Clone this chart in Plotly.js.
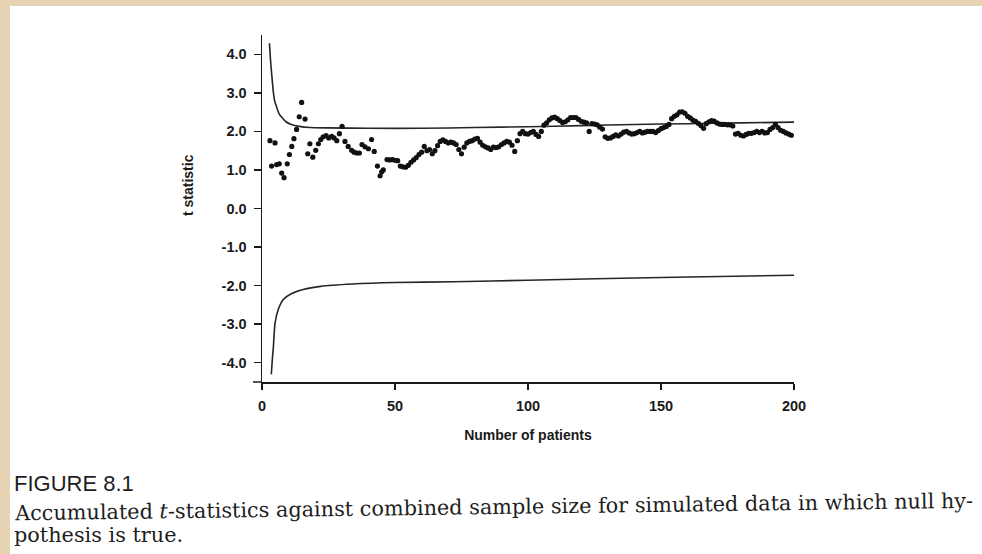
<!DOCTYPE html>
<html>
<head>
<meta charset="utf-8">
<script src="https://cdn.plot.ly/plotly-3.0.1.min.js"></script>
<style>
  html, body { margin: 0; padding: 0; background: #e6d3b3; width: 982px; height: 554px; overflow: hidden; }
  #chart { position: absolute; left: 10px; top: 6px; width: 972px; height: 548px; background: #ffffff; }
</style>
</head>
<body>
<div id="chart"></div>
<script>
// Accumulated t statistic for each combined sample size
const patients = [3.0,3.6,4.9,5.5,6.5,7.4,8.3,9.5,10.3,11.2,12.0,13.0,14.0,14.9,16.2,17.2,18.0,19.1,20.2,21.2,
  22.1,23.0,24.1,25.1,26.2,27.1,28.1,29.1,30.1,31.2,32.4,33.7,34.6,35.6,36.6,37.6,38.7,40.0,41.2,42.2,
  43.4,44.4,45.0,45.6,
  47,48,49,50,51,52,53,54,55,56,57,58,59,60,61,62,63,64,65,66,67,68,69,70,
  71,72,73,74,75,76,77,78,79,80,81,82,83,84,85,86,87,88,89,90,91,92,93,94,95,96,97,98,99,100,
  101,102,103,104,105,106,107,108,109,110,111,112,113,114,115,116,117,118,119,120,
  121,122,123,124,125,126,127,128,129,130,131,132,133,134,135,136,137,138,139,140,
  141,142,143,144,145,146,147,148,149,150,151,152,153,154,155,156,157,158,159,160,
  161,162,163,164,165,166,167,168,169,170,171,172,173,174,175,176,177,178,179,180,
  181,182,183,184,185,186,187,188,189,190,191,192,193,194,195,196,197,198,199];
const tStat = [1.76,1.10,1.70,1.14,1.16,0.92,0.80,1.16,1.40,1.61,1.81,2.05,2.38,2.75,2.32,1.42,1.68,1.33,1.51,1.68,
  1.79,1.86,1.89,1.83,1.87,1.83,1.76,1.94,2.13,1.74,1.61,1.51,1.46,1.44,1.44,1.66,1.60,1.55,1.79,1.48,
  1.10,0.85,0.95,1.00,
  1.27,1.26,1.27,1.25,1.24,1.10,1.08,1.07,1.12,1.20,1.26,1.32,1.40,1.46,1.61,1.50,1.53,1.42,1.50,1.63,1.74,1.78,1.74,1.70,
  1.72,1.70,1.66,1.53,1.42,1.59,1.70,1.74,1.76,1.80,1.82,1.72,1.64,1.60,1.57,1.53,1.59,1.58,1.60,1.66,1.70,1.74,1.72,1.64,1.48,1.76,1.94,2.00,1.94,1.93,
  1.97,2.00,1.92,1.87,2.00,2.16,2.22,2.30,2.35,2.37,2.33,2.28,2.23,2.25,2.30,2.36,2.36,2.36,2.31,2.26,
  2.24,2.22,2.00,2.20,2.19,2.17,2.11,2.06,1.86,1.82,1.83,1.87,1.91,1.88,1.93,1.98,2.00,1.96,1.93,1.94,
  1.97,2.00,1.96,1.98,2.00,2.00,2.00,1.97,2.02,2.07,2.10,2.13,2.18,2.33,2.39,2.43,2.50,2.51,2.47,2.39,
  2.35,2.29,2.26,2.21,2.15,2.08,2.20,2.25,2.28,2.27,2.22,2.19,2.18,2.18,2.17,2.17,2.14,1.93,1.95,1.90,
  1.88,1.92,1.95,1.95,1.97,2.00,1.97,2.00,1.96,1.97,2.05,2.10,2.18,2.10,2.03,2.00,1.96,1.93,1.90];

// Upper and lower boundaries
const upperN = [2.8,3.2,3.6,4.3,4.8,5.5,6.5,7.5,9,11,14,18,25,40,60,80,100,120,140,160,180,200];
const upperT = [4.29,3.85,3.52,3.00,2.78,2.63,2.45,2.36,2.25,2.18,2.13,2.10,2.09,2.08,2.08,2.10,2.12,2.15,2.18,2.20,2.22,2.24];
const lowerN = [3.5,3.9,4.3,4.9,6.1,8,11,15.5,22,34,50,72,100,150,200];
const lowerT = [-4.30,-3.90,-3.57,-2.97,-2.62,-2.36,-2.21,-2.10,-2.02,-1.96,-1.92,-1.90,-1.86,-1.79,-1.73];

const xTicks = [0, 50, 100, 150, 200];
const yTicks = [4, 3, 2, 1, 0, -1, -2, -3, -4];
const yTickLabels = ['4.0','3.0','2.0','1.0','0.0','-1.0','-2.0','-3.0','-4.0'];

const xTitle = 'Number of patients';
const yTitle = 't statistic';
const figLabel = 'FIGURE 8.1';
const captionLine1 = 'Accumulated <i>t</i>-statistics against combined sample size for simulated data in which null hy-';
const captionLine2 = 'pothesis is true.';

const lineStyle = {color: '#262626', width: 1.6, shape: 'spline', smoothing: 0.6};

const traces = [
  {x: upperN, y: upperT, type: 'scatter', mode: 'lines', line: lineStyle, hoverinfo: 'skip'},
  {x: lowerN, y: lowerT, type: 'scatter', mode: 'lines', line: lineStyle, hoverinfo: 'skip'},
  {x: patients, y: tStat, type: 'scatter', mode: 'markers',
   marker: {color: '#111111', size: 5.2, line: {width: 0}}}
];

const tickFont = {family: 'Liberation Sans, Arial, sans-serif', size: 14.5, color: '#1a1a1a', weight: 700};
const titleFont = {family: 'Liberation Sans, Arial, sans-serif', size: 14, color: '#1a1a1a', weight: 700};
const W = 972, H = 548;
const L = 252, T = 29, PW = 532, PH = 347;

const layout = {
  width: W, height: H,
  margin: {l: L, r: W - L - PW, t: T, b: H - T - PH, pad: 0},
  paper_bgcolor: '#ffffff', plot_bgcolor: '#ffffff',
  showlegend: false,
  xaxis: {
    range: [0, 200], tickvals: xTicks, ticktext: xTicks.map(String),
    showgrid: false, zeroline: false, showline: true, linecolor: '#1a1a1a', linewidth: 1.5,
    ticks: 'outside', ticklen: 6, tickwidth: 1.5, tickcolor: '#1a1a1a',
    tickfont: tickFont, ticklabelstandoff: 4,
    title: {text: xTitle, font: titleFont, standoff: 17},
    automargin: false, fixedrange: true
  },
  yaxis: {
    range: [-4.5, 4.5], tickvals: yTicks, ticktext: yTickLabels,
    showgrid: false, zeroline: false, showline: true, linecolor: '#1a1a1a', linewidth: 1.5,
    ticks: 'outside', ticklen: 7, tickwidth: 1.5, tickcolor: '#1a1a1a',
    tickfont: tickFont, ticklabelstandoff: 4,
    automargin: false, fixedrange: true
  },
  shapes: [
    {type: 'line', xref: 'paper', yref: 'paper', x0: -9 / PW, x1: 0, y0: 0, y1: 0,
     line: {color: '#1a1a1a', width: 1.5}}
  ],
  annotations: [
    {text: yTitle, xref: 'paper', yref: 'paper', x: (178 - L) / PW, y: 1 - (179 - T) / PH,
     xanchor: 'center', yanchor: 'middle', showarrow: false, textangle: -90, font: titleFont},
    {text: figLabel, xref: 'paper', yref: 'paper', x: (2 - L) / PW, y: 1 - (477 - T) / PH,
     xanchor: 'left', yanchor: 'middle', showarrow: false,
     font: {family: 'Liberation Sans, Arial, sans-serif', size: 22, color: '#1e1e1e'}},
    {text: captionLine1, xref: 'paper', yref: 'paper', x: (2 - L) / PW, y: 1 - (501 - T) / PH,
     xanchor: 'left', yanchor: 'middle', showarrow: false, textangle: -0.75,
     font: {family: 'DejaVu Serif, serif', size: 20.8, color: '#1e1e1e'}},
    {text: captionLine2, xref: 'paper', yref: 'paper', x: (2 - L) / PW, y: 1 - (529 - T) / PH,
     xanchor: 'left', yanchor: 'middle', showarrow: false,
     font: {family: 'DejaVu Serif, serif', size: 20.8, color: '#1e1e1e'}}
  ]
};

Plotly.newPlot('chart', traces, layout, {displayModeBar: false, staticPlot: true});
</script>
</body>
</html>
